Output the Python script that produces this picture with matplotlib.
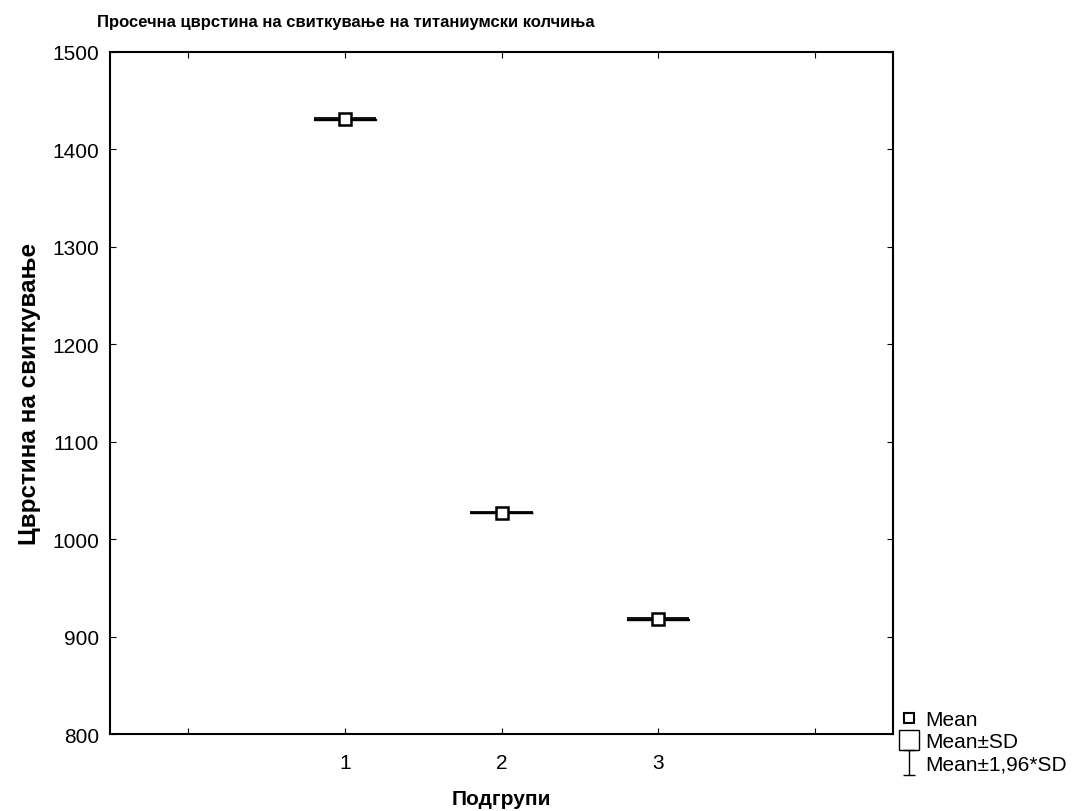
import numpy as np
import matplotlib
matplotlib.use('Agg')
import matplotlib.pyplot as plt
from matplotlib.lines import Line2D
from matplotlib.patches import Rectangle
from matplotlib.path import Path

plt.rcParams['font.family'] = ['Liberation Sans', 'DejaVu Sans']

# data
groups = [1, 2, 3]
means = [1431, 1027, 918]
sds = [0.6, 0.2, 0.5]
legend_labels = ['Mean', 'Mean±SD', 'Mean±1,96*SD']

fig = plt.figure(figsize=(10.83, 8.12), dpi=100)
ax = fig.add_axes([0.1016, 0.0948, 0.723, 0.840])

half = 0.2
for g, m, s in zip(groups, means, sds):
    # whisker caps at mean +- 1.96 SD
    ax.hlines([m - 1.96 * s, m + 1.96 * s], g - half, g + half, color='black', lw=1.3)
    ax.vlines(g, m - 1.96 * s, m + 1.96 * s, color='black', lw=1)
    # box mean +- SD
    ax.add_patch(Rectangle((g - half, m - s), 2 * half, 2 * s, fc='black', ec='black', lw=1))
    ax.plot(g, m, marker='s', ms=8, mfc='white', mec='black', mew=1.8, ls='none', zorder=5)

ax.set_xlim(-0.5, 4.5)
ax.set_ylim(800, 1500)
ax.set_xticks([0, 1, 2, 3, 4])
ax.set_xticklabels(['', '1', '2', '3', ''])
ax.set_yticks(np.arange(800, 1501, 100))
ax.tick_params(direction='in', top=True, right=True, labelsize=15, length=4, pad=8)
ax.tick_params(axis='x', pad=14)
for sp in ax.spines.values():
    sp.set_linewidth(1.5)

fig.text(0.0896, 0.972, 'Просечна цврстина на свиткување на титаниумски колчиња',
         fontsize=12, fontweight='bold', va='center', ha='left')
ax.set_ylabel('Цврстина на свиткување', fontsize=17.5, fontweight='bold', labelpad=8)
ax.set_xlabel('Подгрупи', fontsize=15, fontweight='bold', labelpad=12)

ibeam = Path([(-0.5, 1), (0.5, 1), (0, 1), (0, -1), (-0.5, -1), (0.5, -1)],
             [Path.MOVETO, Path.LINETO, Path.MOVETO, Path.LINETO, Path.MOVETO, Path.LINETO])
handles = [
    Line2D([], [], marker='s', ms=7, mfc='white', mec='black', mew=1.5, ls='none'),
    Line2D([], [], marker='s', ms=15, mfc='white', mec='black', mew=1, ls='none'),
    Line2D([], [], marker=ibeam, ms=18, mec='black', mew=1, ls='none'),
]
fig.legend(handles, legend_labels, loc='lower left', bbox_to_anchor=(0.822, 0.036),
           frameon=False, fontsize=15, handlelength=1.0, handletextpad=0.3,
           labelspacing=0.15, borderaxespad=0)

fig.savefig('out.png', dpi=100)
